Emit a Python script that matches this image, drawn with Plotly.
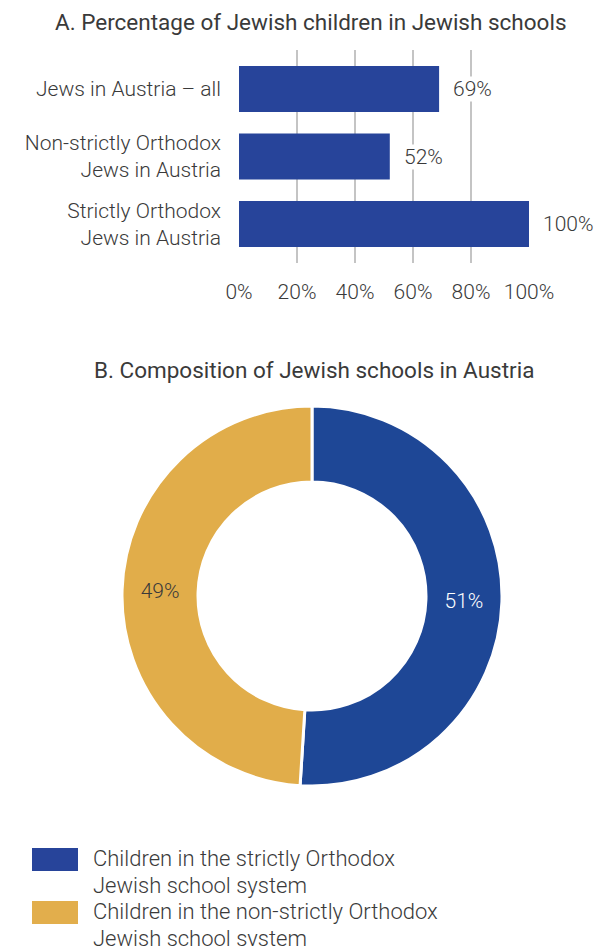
import plotly.graph_objects as go

# Panel A: share of Jewish children attending Jewish schools
groups = ["Jews in Austria – all", "Non-strictly Orthodox<br>Jews in Austria", "Strictly Orthodox<br>Jews in Austria"]
shares = [69, 52, 100]
tick_vals = [0, 20, 40, 60, 80, 100]
tick_text = ["0%", "20%", "40%", "60%", "80%", "100%"]

# Panel B: composition of Jewish schools
systems = ["Children in the strictly Orthodox<br>Jewish school system",
           "Children in the non-strictly Orthodox<br>Jewish school system"]
composition = [51, 49]

W, H = 604, 946
TXT = "#3a3a3a"
FONT = "Roboto"
BAR_BLUE = "#27449a"
PIE_COLORS = ["#1e4796", "#e1ad4a"]
LEG_COLORS = ["#27449a", "#e2ae4c"]


def py(px):
    return 1 - px / H


def px_(x):
    return x / W


fig = go.Figure()

fig.add_trace(go.Bar(
    x=shares, y=groups, orientation="h",
    marker=dict(color=BAR_BLUE, line=dict(width=0)),
    width=0.68, showlegend=False, hoverinfo="skip",
    xaxis="x", yaxis="y",
))

fig.add_trace(go.Pie(
    labels=systems, values=composition,
    marker=dict(colors=PIE_COLORS, line=dict(color="white", width=3)),
    hole=0.6, sort=False, direction="clockwise", rotation=0,
    texttemplate="%{value}%", textposition="inside",
    insidetextorientation="horizontal",
    textfont=dict(family=FONT, size=21, color=["white", TXT], weight=300),
    domain=dict(x=[px_(122), px_(502)], y=[py(786), py(406)]),
    showlegend=False, hoverinfo="skip", automargin=False,
))

annotations = []
# value labels next to each bar (white backing hides the grid line behind them)
for g, v in zip(groups, shares):
    annotations.append(dict(
        x=v, y=g, xref="x", yref="y", text=f"{v}%", showarrow=False,
        xanchor="left", yanchor="middle", xshift=13,
        bgcolor="white", borderpad=0,
        font=dict(family=FONT, size=21, color=TXT, weight=300),
    ))

# panel titles
annotations.append(dict(
    x=px_(311), y=py(22), xref="paper", yref="paper", showarrow=False,
    text="A. Percentage of Jewish children in Jewish schools",
    xanchor="center", yanchor="middle",
    font=dict(family=FONT, size=22.5, color=TXT, weight=400),
))
annotations.append(dict(
    x=px_(314), y=py(370), xref="paper", yref="paper", showarrow=False,
    text="B. Composition of Jewish schools in Austria",
    xanchor="center", yanchor="middle",
    font=dict(family=FONT, size=22.5, color=TXT, weight=400),
))

# legend for panel B: colour swatch plus two text lines per entry
shapes = []
leg_first_line = 858.5
line_gap = 26.5
for k, (col, lab) in enumerate(zip(LEG_COLORS, systems)):
    first = leg_first_line + 2 * k * line_gap
    shapes.append(dict(
        type="rect", xref="paper", yref="paper",
        x0=px_(32), x1=px_(78), y0=py(first + 12.5), y1=py(first - 10.5),
        fillcolor=col, line=dict(width=0),
    ))
    for i, line in enumerate(lab.split("<br>")):
        annotations.append(dict(
            x=px_(91), y=py(first + i * line_gap), xref="paper", yref="paper",
            showarrow=False, text=line, xanchor="left", yanchor="middle",
            font=dict(family=FONT, size=22, color=TXT, weight=300),
        ))

fig.update_layout(
    width=W, height=H,
    margin=dict(l=0, r=0, t=0, b=0, autoexpand=False),
    paper_bgcolor="white", plot_bgcolor="white",
    font=dict(family=FONT, color=TXT),
    xaxis=dict(
        domain=[px_(239), px_(529)], range=[0, 100],
        tickvals=tick_vals, ticktext=tick_text,
        showgrid=True, gridcolor="#c4c4c4", gridwidth=1.5,
        zeroline=False, showline=False, ticks="",
        ticklabelstandoff=14, automargin=False,
        tickfont=dict(family=FONT, size=21, color=TXT, weight=300),
        anchor="y", fixedrange=True,
    ),
    yaxis=dict(
        domain=[py(263), py(50)], range=[2.578, -0.578],
        type="category", showgrid=False, zeroline=False, showline=False,
        ticks="", ticklabelstandoff=17, automargin=False,
        tickfont=dict(family=FONT, size=21, color=TXT, weight=300),
        anchor="x", fixedrange=True,
    ),
    shapes=shapes,
    annotations=annotations,
)

fig.write_html("out.html")
